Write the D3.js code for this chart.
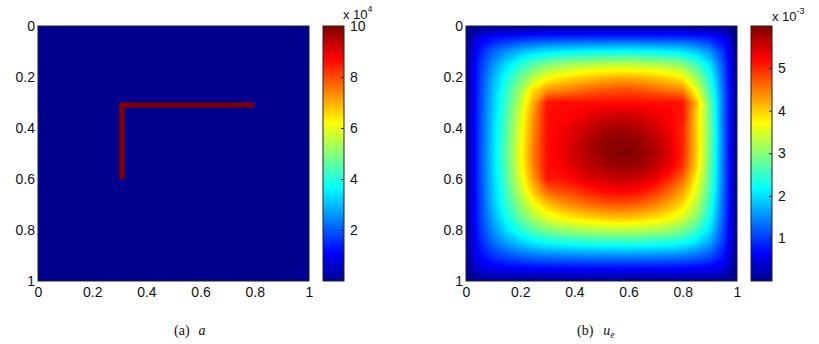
<!DOCTYPE html>
<html>
<head>
<meta charset="utf-8">
<script src="https://cdn.jsdelivr.net/npm/d3@7"></script>
<style>
  body { margin: 0; background: #fff; }
  text { font-family: "Liberation Sans", Arial, sans-serif; fill: #111; }
  text.cap { font-family: "Liberation Serif", "DejaVu Serif", serif; }
</style>
</head>
<body>
<div id="chart"></div>
<script>
// ---- data ----
const axisTicks = [0, 0.2, 0.4, 0.6, 0.8, 1];
const axisTickLabels = ["0", "0.2", "0.4", "0.6", "0.8", "1"];

// panel (a): coefficient a, colour scale in units of 10^4
const aRange = [0.0001, 10];
const aColorTicks = [2, 4, 6, 8, 10];
const aBackground = 0.0001;   // a = 1
const aInclusion = 10;        // a = 10^5 on the L-shaped strip
const aInclusionX = [[0.3, 0.8], [0.3, 0.32]];
const aInclusionY = [[0.3, 0.32], [0.3, 0.6]];

// panel (b): solution u_e, in units of 10^-3, sampled every 0.05
const ueRange = [0, 5.99];
const ueColorTicks = [1, 2, 3, 4, 5];
const ueX = [0, 0.05, 0.1, 0.15, 0.2, 0.25, 0.3, 0.35, 0.4, 0.45, 0.5, 0.55, 0.6, 0.65, 0.7, 0.75, 0.8, 0.85, 0.9, 0.95, 1];
const ue = [
  [0, 0, 0, 0, 0, 0, 0, 0, 0, 0, 0, 0, 0, 0, 0, 0, 0, 0, 0, 0, 0],
  [0, .58, .77, .87, .94, .98, 1.01, 1.02, 1.03, 1.04, 1.05, 1.05, 1.05, 1.05, 1.04, 1.03, 1.02, .97, .88, .64, 0],
  [0, .81, 1.25, 1.54, 1.76, 1.92, 2.03, 2.09, 2.13, 2.16, 2.18, 2.19, 2.2, 2.18, 2.16, 2.12, 2.05, 1.86, 1.55, .95, 0],
  [0, .92, 1.54, 2.0, 2.39, 2.71, 2.94, 3.06, 3.14, 3.21, 3.26, 3.29, 3.29, 3.26, 3.21, 3.13, 2.97, 2.59, 2.03, 1.1, 0],
  [0, .97, 1.7, 2.28, 2.81, 3.26, 3.6, 3.78, 3.9, 4.0, 4.08, 4.13, 4.14, 4.09, 4.0, 3.88, 3.7, 3.1, 2.32, 1.19, 0],
  [0, 1.0, 1.8, 2.46, 3.1, 3.9, 4.3, 4.4, 4.5, 4.6, 4.68, 4.73, 4.75, 4.7, 4.6, 4.5, 4.4, 3.6, 2.55, 1.25, 0],
  [0, 1.02, 1.85, 2.56, 3.3, 4.2, 5.1, 5.15, 5.15, 5.15, 5.15, 5.15, 5.15, 5.15, 5.15, 5.15, 5.1, 4.1, 2.75, 1.3, 0],
  [0, 1.03, 1.89, 2.63, 3.45, 4.35, 5.15, 5.2, 5.25, 5.35, 5.45, 5.5, 5.5, 5.45, 5.35, 5.25, 5.1, 4.0, 2.8, 1.28, 0],
  [0, 1.04, 1.92, 2.69, 3.52, 4.4, 5.15, 5.25, 5.4, 5.55, 5.7, 5.75, 5.75, 5.65, 5.5, 5.3, 5.0, 4.0, 2.85, 1.29, 0],
  [0, 1.05, 1.94, 2.73, 3.57, 4.45, 5.15, 5.3, 5.5, 5.7, 5.85, 5.92, 5.92, 5.82, 5.65, 5.4, 5.0, 4.0, 2.85, 1.3, 0],
  [0, 1.05, 1.95, 2.75, 3.6, 4.5, 5.15, 5.3, 5.5, 5.7, 5.85, 5.95, 5.98, 5.88, 5.7, 5.45, 5.0, 4.0, 2.8, 1.3, 0],
  [0, 1.05, 1.94, 2.73, 3.57, 4.45, 5.15, 5.25, 5.45, 5.6, 5.74, 5.83, 5.85, 5.76, 5.59, 5.35, 4.92, 3.95, 2.77, 1.29, 0],
  [0, 1.04, 1.91, 2.66, 3.48, 4.3, 5.1, 5.1, 5.25, 5.4, 5.47, 5.56, 5.57, 5.5, 5.3, 5.0, 4.6, 3.75, 2.68, 1.28, 0],
  [0, 1.02, 1.86, 2.58, 3.3, 4.05, 4.6, 4.75, 4.86, 5.02, 5.14, 5.21, 5.2, 5.1, 4.9, 4.6, 4.25, 3.55, 2.6, 1.26, 0],
  [0, 1.0, 1.8, 2.46, 3.07, 3.62, 4.05, 4.27, 4.43, 4.56, 4.66, 4.72, 4.7, 4.6, 4.45, 4.2, 3.9, 3.3, 2.45, 1.22, 0],
  [0, .97, 1.7, 2.27, 2.79, 3.23, 3.56, 3.74, 3.86, 3.96, 4.03, 4.08, 4.08, 4.0, 3.9, 3.75, 3.5, 3.0, 2.27, 1.17, 0],
  [0, .92, 1.54, 2.0, 2.39, 2.71, 2.94, 3.06, 3.14, 3.21, 3.26, 3.29, 3.29, 3.26, 3.2, 3.1, 2.93, 2.56, 2.01, 1.1, 0],
  [0, .83, 1.31, 1.63, 1.88, 2.07, 2.2, 2.27, 2.32, 2.35, 2.38, 2.39, 2.4, 2.38, 2.35, 2.31, 2.22, 2.0, 1.65, .98, 0],
  [0, .69, .99, 1.16, 1.28, 1.37, 1.42, 1.45, 1.47, 1.48, 1.49, 1.5, 1.5, 1.49, 1.48, 1.46, 1.43, 1.33, 1.17, .79, 0],
  [0, .45, .56, .62, .65, .67, .68, .69, .69, .7, .7, .7, .7, .7, .7, .69, .68, .66, .62, .49, 0],
  [0, 0, 0, 0, 0, 0, 0, 0, 0, 0, 0, 0, 0, 0, 0, 0, 0, 0, 0, 0, 0]
];

// matlab jet(64) breakpoints
const jetStops = [0, 0.111, 0.365, 0.619, 0.873, 1];
const jetColors = ["#00008f", "#0000ff", "#00ffff", "#ffff00", "#ff0000", "#800000"];

// ---- layout ----
const width = 819, height = 344;
const plotTop = 26, plotBottom = 281;
const fontSize = 14;
const sans = '"Liberation Sans", Arial, sans-serif';

const svg = d3.select("#chart").append("svg")
  .attr("width", width)
  .attr("height", height)
  .style("background", "#fff");

const defs = svg.append("defs");

function jet(domain) {
  return d3.scaleLinear()
    .domain(jetStops.map(s => domain[0] + s * (domain[1] - domain[0])))
    .range(jetColors)
    .interpolate(d3.interpolateRgb)
    .clamp(true);
}

function drawAxes(g, x, y) {
  g.append("g")
    .attr("transform", `translate(0,${plotBottom})`)
    .call(d3.axisBottom(x).tickValues(axisTicks).tickSize(0).tickPadding(6)
      .tickFormat((d, i) => axisTickLabels[i]))
    .call(a => a.select(".domain").remove())
    .selectAll("text").style("font-size", fontSize + "px")
    .style("font-family", sans).attr("fill", "#111");

  g.append("g")
    .attr("transform", `translate(${x.range()[0]},0)`)
    .call(d3.axisLeft(y).tickValues(axisTicks).tickSize(0).tickPadding(3)
      .tickFormat((d, i) => axisTickLabels[i]))
    .call(a => a.select(".domain").remove())
    .selectAll("text").style("font-size", fontSize + "px")
    .style("font-family", sans).attr("fill", "#111");

  g.append("rect")
    .attr("x", x.range()[0]).attr("y", plotTop)
    .attr("width", x.range()[1] - x.range()[0]).attr("height", plotBottom - plotTop)
    .attr("fill", "none").attr("stroke", "#222").attr("stroke-width", 1);
}

function drawColorbar(id, left, domain, ticks, expText) {
  const cbW = 21;
  const cy = d3.scaleLinear().domain(domain).range([plotBottom, plotTop]);
  const grad = defs.append("linearGradient").attr("id", id)
    .attr("x1", 0).attr("y1", 1).attr("x2", 0).attr("y2", 0);
  jetStops.forEach((s, i) => grad.append("stop")
    .attr("offset", s).attr("stop-color", jetColors[i]));

  svg.append("rect")
    .attr("x", left).attr("y", plotTop).attr("width", cbW).attr("height", plotBottom - plotTop)
    .attr("fill", `url(#${id})`).attr("stroke", "#222").attr("stroke-width", 1);

  const axis = svg.append("g")
    .attr("transform", `translate(${left + cbW},0)`)
    .call(d3.axisRight(cy).tickValues(ticks).tickSize(-3).tickPadding(6).tickFormat(d3.format("d")));
  axis.select(".domain").remove();
  axis.selectAll("line").attr("stroke", "#222");
  axis.selectAll("text").style("font-size", fontSize + "px")
    .style("font-family", sans).attr("fill", "#111");

  const t = svg.append("text")
    .attr("x", expText.x).attr("y", expText.y)
    .style("font-size", "13px");
  t.append("tspan").text("x 10");
  t.append("tspan").attr("dy", -7).style("font-size", "9px").text(expText.exp);
}

// ---- panel (a) ----
const xA = d3.scaleLinear().domain([0, 1]).range([38, 309]);
const yA = d3.scaleLinear().domain([0, 1]).range([plotTop, plotBottom]);
const colorA = jet(aRange);
const gA = svg.append("g");

gA.append("rect")
  .attr("x", xA(0)).attr("y", yA(0))
  .attr("width", xA(1) - xA(0)).attr("height", yA(1) - yA(0))
  .attr("fill", colorA(aBackground));

gA.selectAll("rect.inc")
  .data(aInclusionX.map((xr, i) => ({ xr, yr: aInclusionY[i] })))
  .enter().append("rect")
  .attr("class", "inc")
  .attr("x", d => xA(d.xr[0]))
  .attr("y", d => yA(d.yr[0]))
  .attr("width", d => xA(d.xr[1]) - xA(d.xr[0]))
  .attr("height", d => yA(d.yr[1]) - yA(d.yr[0]))
  .attr("fill", colorA(aInclusion));

drawAxes(gA, xA, yA);
drawColorbar("cbA", 323, aRange, aColorTicks, { x: 343, y: 19, exp: "4" });

// ---- panel (b) ----
const xB = d3.scaleLinear().domain([0, 1]).range([466, 737]);
const yB = d3.scaleLinear().domain([0, 1]).range([plotTop, plotBottom]);
const colorB = jet(ueRange);
const gB = svg.append("g");

defs.append("clipPath").attr("id", "clipB")
  .append("rect")
  .attr("x", xB(0)).attr("y", yB(0))
  .attr("width", xB(1) - xB(0)).attr("height", yB(1) - yB(0));

const nx = ueX.length, ny = ue.length;
const step = ueX[1] - ueX[0];
const thresholds = d3.range(0, 6, 0.05);
const contours = d3.contours().size([nx, ny]).thresholds(thresholds)(ue.flat());

const toPx = d3.geoTransform({
  point(cx, cy) {
    this.stream.point(xB(ueX[0] + (cx - 0.5) * step), yB(ueX[0] + (cy - 0.5) * step));
  }
});
const path = d3.geoPath(toPx);

gB.append("g").attr("clip-path", "url(#clipB)")
  .selectAll("path")
  .data(contours)
  .enter().append("path")
  .attr("d", path)
  .attr("fill", d => colorB(d.value + 0.025))
  .attr("stroke", d => colorB(d.value + 0.025))
  .attr("stroke-width", 0.4);

drawAxes(gB, xB, yB);
drawColorbar("cbB", 751, ueRange, ueColorTicks, { x: 772, y: 21, exp: "-3" });

// ---- captions ----
const capA = svg.append("text").attr("class", "cap").attr("x", 174).attr("y", 335)
  .style("font-size", "14px");
capA.append("tspan").text("(a)");
capA.append("tspan").attr("dx", 9).style("font-style", "italic").text("a");

const capB = svg.append("text").attr("class", "cap").attr("x", 577).attr("y", 335)
  .style("font-size", "14px");
capB.append("tspan").text("(b)");
capB.append("tspan").attr("dx", 10).style("font-style", "italic").text("u");
capB.append("tspan").attr("dy", 3).style("font-size", "10px").style("font-style", "italic").text("e");
</script>
</body>
</html>
